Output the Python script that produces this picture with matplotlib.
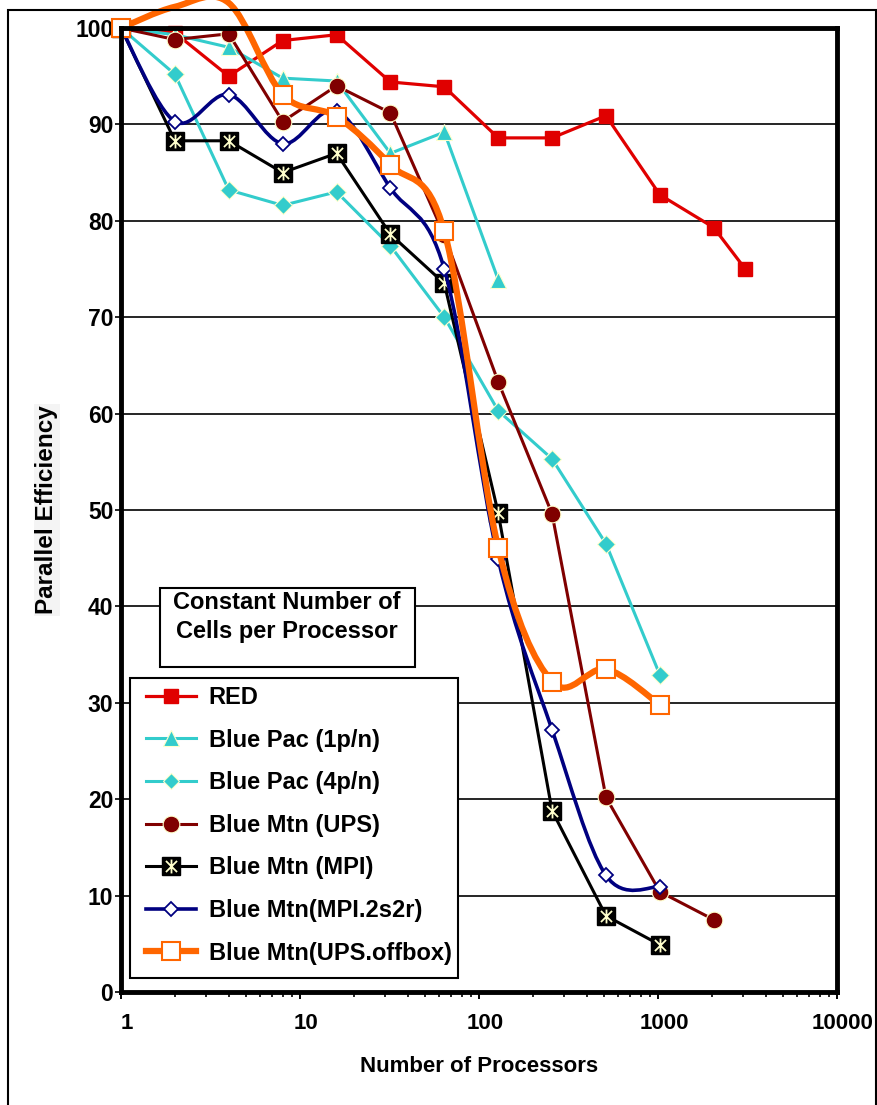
import numpy as np
import matplotlib
matplotlib.use("Agg")
import matplotlib.pyplot as plt
from matplotlib.path import Path
from matplotlib.patches import PathPatch, Rectangle
from matplotlib.lines import Line2D
from matplotlib.transforms import ScaledTranslation

plt.rcParams['font.family'] = ['Liberation Sans', 'DejaVu Sans']
plt.rcParams['font.weight'] = 'bold'
plt.rcParams['axes.labelweight'] = 'bold'

# data (processors -> parallel efficiency %)
red_x = [1, 2, 4, 8, 16, 32, 64, 128, 256, 512, 1024, 2048, 3072]
red_y = [100, 99.5, 95.0, 98.7, 99.3, 94.4, 93.9, 88.6, 88.6, 90.9, 82.7, 79.3, 75.0]

pac1_x = [1, 2, 4, 8, 16, 32, 64, 128]
pac1_y = [100, 99.3, 98.0, 94.8, 94.5, 87.0, 89.2, 73.9]

pac4_x = [1, 2, 4, 8, 16, 32, 64, 128, 256, 512, 1024]
pac4_y = [100, 95.2, 83.2, 81.6, 83.0, 77.4, 70.0, 60.3, 55.3, 46.5, 32.9]

ups_x = [1, 2, 4, 8, 16, 32, 64, 128, 256, 512, 1024, 2048]
ups_y = [100, 98.8, 99.4, 90.3, 94.0, 91.2, 78.5, 63.3, 49.6, 20.2, 10.4, 7.5]

mpi_x = [1, 2, 4, 8, 16, 32, 64, 128, 256, 512, 1024]
mpi_y = [100, 88.3, 88.3, 85.0, 87.0, 78.6, 73.5, 49.7, 18.8, 7.9, 4.9]

s2r_x = [1, 2, 4, 8, 16, 32, 64, 128, 256, 512, 1024]
s2r_y = [100, 90.3, 93.1, 88.0, 91.4, 83.4, 75.0, 44.9, 27.2, 12.1, 10.9]

offbox_x = [1, 2, 4, 8, 16, 32, 64, 128, 256, 512, 1024]
offbox_y = [100, 102.2, 102.6, 93.1, 90.8, 85.8, 78.9, 46.1, 32.2, 33.5, 29.8]

labels = ['RED', 'Blue Pac (1p/n)', 'Blue Pac (4p/n)', 'Blue Mtn (UPS)',
          'Blue Mtn (MPI)', 'Blue Mtn(MPI.2s2r)', 'Blue Mtn(UPS.offbox)']
xtick_vals = [1, 10, 100, 1000, 10000]
xtick_text = ['1', '10', '100', '1000', '10000']

RED = '#E00000'
CYAN = '#33CCCC'
DKRED = '#800000'
NAVY = '#000080'
ORANGE = '#FF6600'
PALE = '#FFFFCC'

W, H = 878, 1105
fig = plt.figure(figsize=(W / 100, H / 100), dpi=100)
ax = fig.add_axes([121 / W, 1 - 992 / H, (837 - 121) / W, (992 - 28) / H])


def smooth_path(xs, ys):
    # excel-like smoothed line: bezier control points in log-x space
    lx = np.log10(xs)
    y = np.asarray(ys, float)
    n = len(lx)
    verts = [(lx[0], y[0])]
    for i in range(n - 1):
        a = max(i - 1, 0)
        b = min(i + 2, n - 1)
        verts.append((lx[i] + (lx[i + 1] - lx[a]) / 6, y[i] + (y[i + 1] - y[a]) / 6))
        verts.append((lx[i + 1] - (lx[b] - lx[i]) / 6, y[i + 1] - (y[b] - y[i]) / 6))
        verts.append((lx[i + 1], y[i + 1]))
    verts = np.array(verts)
    verts[:, 0] = 10 ** verts[:, 0]
    codes = [Path.MOVETO] + [Path.CURVE4] * (3 * (n - 1))
    return Path(verts, codes)


# asterisk marker (vertical bar + X)
star = Path([(0, -1), (0, 1), (-0.8, -0.8), (0.8, 0.8), (-0.8, 0.8), (0.8, -0.8)],
            [Path.MOVETO, Path.LINETO] * 3)

z = 3
ax.plot(red_x, red_y, color=RED, lw=2.3, marker='s', ms=10.5, mfc=RED, mec=RED,
        clip_on=False, zorder=z)
z += 2
ax.plot(pac1_x, pac1_y, color=CYAN, lw=2.2, marker='^', ms=11.5, mfc=CYAN, mec=PALE,
        mew=0.8, clip_on=False, zorder=z)
z += 2
ax.plot(pac4_x, pac4_y, color=CYAN, lw=2.2, marker='D', ms=9, mfc=CYAN, mec=PALE,
        mew=0.8, clip_on=False, zorder=z)
z += 2
ax.plot(ups_x, ups_y, color=DKRED, lw=2.2, marker='o', ms=12, mfc=DKRED, mec=PALE,
        mew=0.8, clip_on=False, zorder=z)
z += 2
ax.plot(mpi_x, mpi_y, color='black', lw=2.2, marker='s', ms=13, mfc='black', mec='black',
        clip_on=False, zorder=z)
ax.plot(mpi_x, mpi_y, ls='none', marker=star, ms=10, mec=PALE, mew=1.3,
        clip_on=False, zorder=z + 0.5)
z += 2
ax.add_patch(PathPatch(smooth_path(s2r_x, s2r_y), fill=False, ec=NAVY, lw=2.6,
                       capstyle='round', joinstyle='round', clip_on=False, zorder=z))
ax.plot(s2r_x, s2r_y, ls='none', marker='D', ms=7, mfc='white', mec=NAVY, mew=1.3,
        clip_on=False, zorder=z + 0.5)
z += 2
ax.add_patch(PathPatch(smooth_path(offbox_x, offbox_y), fill=False, ec=ORANGE, lw=4.5,
                       capstyle='round', joinstyle='round', clip_on=False, zorder=z))
shown = [i for i, v in enumerate(offbox_y) if v <= 100]
ax.plot(offbox_x, offbox_y, ls='none', marker='s', ms=12.5, mfc='white', mec=ORANGE,
        mew=1.5, markevery=shown, clip_on=False, zorder=z + 0.5)

ax.set_xscale('log')
ax.set_xlim(1, 10000)
ax.set_ylim(0, 100)
ax.set_yticks(range(0, 101, 10))
ax.set_xticks(xtick_vals)
ax.set_xticklabels(xtick_text)
ax.xaxis.set_minor_locator(matplotlib.ticker.LogLocator(base=10, subs=np.arange(2, 10)))
ax.xaxis.set_minor_formatter(matplotlib.ticker.NullFormatter())

ax.yaxis.grid(True, color='black', lw=1.2)
ax.set_axisbelow(True)
for s in ax.spines.values():
    s.set_linewidth(3.5)
    s.set_zorder(30)

ax.tick_params(axis='y', direction='out', length=4.5, width=1.2, pad=1, labelsize=16.5)
ax.tick_params(axis='x', which='major', direction='out', length=5, width=1.4, pad=10,
               labelsize=16)
ax.tick_params(axis='x', which='minor', direction='out', length=3.5, width=1.2)
for lb in ax.get_xticklabels():
    lb.set_transform(lb.get_transform() + ScaledTranslation(6 / 100, 0, fig.dpi_scale_trans))

ax.set_xlabel('Number of Processors', fontsize=16, labelpad=16)
ax.set_ylabel('Parallel Efficiency', fontsize=17.5, labelpad=12,
              bbox=dict(fc='#f4f4f4', ec='none', pad=1))

# title box
ax.add_patch(Rectangle((160 / W, 1 - 667 / H), 255 / W, 79 / H, transform=fig.transFigure,
                       fc='white', ec='black', lw=1.5, clip_on=False, zorder=40))
ax.text(287 / W, 1 - 617 / H, 'Constant Number of\nCells per Processor',
        transform=fig.transFigure, ha='center', va='center', fontsize=17,
        linespacing=1.32, zorder=41)

# legend box
ax.add_patch(Rectangle((130 / W, 1 - 978 / H), 328 / W, 300 / H, transform=fig.transFigure,
                       fc='white', ec='black', lw=1.5, clip_on=False, zorder=40))
handles = [
    Line2D([], [], color=RED, lw=2.3, marker='s', ms=10.5, mfc=RED, mec=RED),
    Line2D([], [], color=CYAN, lw=2.2, marker='^', ms=11.5, mfc=CYAN, mec=PALE, mew=0.8),
    Line2D([], [], color=CYAN, lw=2.2, marker='D', ms=8.5, mfc=CYAN, mec=PALE, mew=0.8),
    Line2D([], [], color=DKRED, lw=2.2, marker='o', ms=12, mfc=DKRED, mec=PALE, mew=0.8),
    (Line2D([], [], color='black', lw=2.2, marker='s', ms=13, mfc='black', mec='black'),
     Line2D([], [], ls='none', marker=star, ms=10, mec=PALE, mew=1.3)),
    Line2D([], [], color=NAVY, lw=2.6, marker='D', ms=7, mfc='white', mec=NAVY, mew=1.3),
    Line2D([], [], color=ORANGE, lw=4.5, marker='s', ms=12.5, mfc='white', mec=ORANGE, mew=1.5),
]
leg = ax.legend(handles, labels, loc='upper left', bbox_to_anchor=(146 / W, 1 - 686 / H),
                bbox_transform=fig.transFigure, frameon=False, borderpad=0, borderaxespad=0,
                fontsize=17, handlelength=2.1, handletextpad=0.55, labelspacing=0.83)
leg.set_zorder(42)

# outer frame
fig.add_artist(Rectangle((8 / W, -0.02), (876 - 8) / W, 1.02 - 10 / H,
                         transform=fig.transFigure, fill=False, ec='black', lw=1.5))

fig.savefig('out.png', dpi=100)
